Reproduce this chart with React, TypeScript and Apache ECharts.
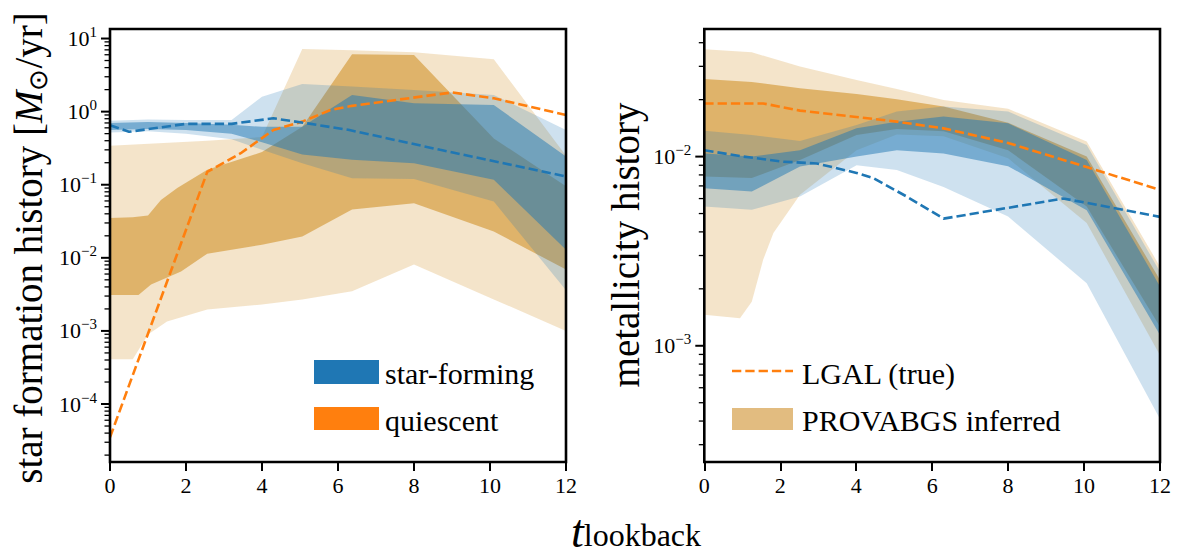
import React, { useEffect, useRef } from 'react';
import * as echarts from 'echarts';

const FONT = 'Liberation Serif';
const C0 = '#1f77b4';
const C1 = '#ff7f0e';
const TAN_OUTER = 'rgba(214,158,66,0.28)';
const TAN_INNER = 'rgba(214,158,66,0.70)';
const BLUE_OUTER = 'rgba(31,119,180,0.22)';
const BLUE_INNER = 'rgba(31,119,180,0.50)';
const TAN_PATCH = '#e2bc80';

const xTicks = [0, 2, 4, 6, 8, 10, 12];

// ---------- left panel: star formation history ----------
const sfhMin = 1.61e-5;
const sfhMax = 13.5;
const sfhMajor = [1e-4, 1e-3, 1e-2, 1e-1, 1, 10];
const sfhMinor = [2e-5, 3e-5, 4e-5, 5e-5, 6e-5, 7e-5, 8e-5, 9e-5,
  2e-4, 3e-4, 4e-4, 5e-4, 6e-4, 7e-4, 8e-4, 9e-4,
  2e-3, 3e-3, 4e-3, 5e-3, 6e-3, 7e-3, 8e-3, 9e-3,
  0.02, 0.03, 0.04, 0.05, 0.06, 0.07, 0.08, 0.09,
  0.2, 0.3, 0.4, 0.5, 0.6, 0.7, 0.8, 0.9,
  2, 3, 4, 5, 6, 7, 8, 9];

const sfhQuiescentTrue = [[0, 3.5e-5], [2.56, 0.15], [3.44, 0.27], [4.3, 0.56], [5.06, 0.73], [5.8, 1.05], [6.37, 1.2], [9.0, 1.83], [10.1, 1.52], [12, 0.9]];
const sfhStarFormingTrue = [[0, 0.65], [0.5, 0.53], [2, 0.68], [3.2, 0.68], [4.3, 0.81], [5.2, 0.69], [6.3, 0.56], [8.69, 0.30], [9.74, 0.23], [12, 0.13]];

const sfhQOuterHi = [[0, 0.34], [2.56, 0.40], [4.0, 0.45], [5.06, 7.2], [6.37, 6.9], [8.0, 6.5], [10.1, 5.2], [12, 0.25]];
const sfhQOuterLo = [[0, 4.1e-4], [0.6, 4.1e-4], [1.0, 8.9e-4], [1.5, 1.35e-3], [2.56, 1.96e-3], [4.0, 2.3e-3], [5.06, 2.7e-3], [6.37, 3.5e-3], [8.0, 8.1e-3], [10.1, 2.7e-3], [12, 1.0e-3]];
const sfhQInnerHi = [[0, 0.035], [0.6, 0.036], [1.0, 0.038], [1.34, 0.062], [1.77, 0.09], [2.56, 0.16], [4.0, 0.28], [5.06, 0.62], [6.37, 6.1], [8.0, 5.95], [10.1, 0.43], [12, 0.095]];
const sfhQInnerLo = [[0, 3.1e-3], [0.75, 3.1e-3], [1.08, 4.3e-3], [1.87, 6.5e-3], [2.56, 0.0114], [4.0, 0.0151], [5.06, 0.0196], [6.37, 0.046], [8.0, 0.056], [10.1, 0.023], [12, 0.0069]];
const sfhSOuterHi = [[0, 0.75], [1, 0.78], [2, 0.77], [3.2, 0.77], [4.0, 1.6], [5.06, 2.39], [6.37, 2.2], [8.0, 1.98], [10.1, 1.69], [12, 0.56]];
const sfhSOuterLo = [[0, 0.52], [1, 0.54], [2, 0.50], [3.2, 0.42], [4.0, 0.30], [5.06, 0.197], [6.37, 0.123], [8.0, 0.12], [10.1, 0.059], [12, 0.0036]];
const sfhSInnerHi = [[0, 0.70], [1, 0.72], [2, 0.70], [3.2, 0.66], [4.0, 0.62], [5.06, 0.62], [6.37, 1.69], [8.0, 1.30], [10.1, 1.23], [12, 0.243]];
const sfhSInnerLo = [[0, 0.56], [1, 0.58], [2, 0.56], [3.2, 0.50], [4.0, 0.38], [5.06, 0.26], [6.37, 0.22], [8.0, 0.197], [10.1, 0.117], [12, 0.0129]];

// ---------- right panel: metallicity history ----------
const zhMin = 2.43e-4;
const zhMax = 0.04726;
const zhMajor = [1e-3, 1e-2];
const zhMinor = [3e-4, 4e-4, 5e-4, 6e-4, 7e-4, 8e-4, 9e-4,
  2e-3, 3e-3, 4e-3, 5e-3, 6e-3, 7e-3, 8e-3, 9e-3,
  0.02, 0.03, 0.04];

const zhQuiescentTrue = [[0, 0.0191], [1.55, 0.0191], [2.52, 0.0175], [4.0, 0.0162], [5.07, 0.0153], [6.3, 0.0141], [8.0, 0.0118], [10.07, 0.0088], [12, 0.00667]];
const zhStarFormingTrue = [[0, 0.0108], [1.03, 0.0100], [2.08, 0.0094], [2.96, 0.0092], [4.01, 0.0082], [4.45, 0.0077], [5.33, 0.00615], [6.3, 0.0047], [9.45, 0.0060], [10.07, 0.0057], [12, 0.0048]];

const zhQOuterHi = [[0, 0.0369], [1.25, 0.0356], [2.52, 0.0299], [4.01, 0.0254], [5.07, 0.0228], [6.3, 0.0199], [8.0, 0.0179], [10.07, 0.0120], [12, 0.00262]];
const zhQOuterLo = [[0, 0.00146], [0.94, 0.0014], [1.25, 0.00171], [1.55, 0.00285], [1.82, 0.00394], [2.52, 0.00628], [4.01, 0.0108], [5.07, 0.0131], [6.3, 0.0128], [8.0, 0.0098], [10.07, 0.00445], [12, 0.00089]];
const zhQInnerHi = [[0, 0.0257], [1.25, 0.0248], [2.52, 0.0230], [4.01, 0.0214], [5.07, 0.0201], [6.3, 0.0184], [8.0, 0.0151], [10.07, 0.0100], [12, 0.00223]];
const zhQInnerLo = [[0, 0.00784], [1.25, 0.0077], [2.52, 0.0096], [4.01, 0.0130], [5.07, 0.0140], [6.3, 0.0136], [8.0, 0.0108], [10.07, 0.00545], [12, 0.00126]];
const zhSOuterHi = [[0, 0.0137], [1.25, 0.0130], [2.52, 0.0121], [4.01, 0.0147], [5.07, 0.0173], [6.3, 0.0184], [8.0, 0.0173], [10.07, 0.0115], [12, 0.00246]];
const zhSOuterLo = [[0, 0.00545], [1.25, 0.00523], [2.52, 0.00615], [4.01, 0.0090], [5.07, 0.0085], [6.3, 0.0069], [8.0, 0.00482], [10.07, 0.00214], [12, 0.00041]];
const zhSInnerHi = [[0, 0.0104], [1.25, 0.0100], [2.52, 0.0108], [4.01, 0.0141], [5.07, 0.0153], [6.3, 0.0163], [8.0, 0.0150], [10.07, 0.0096], [12, 0.00206]];
const zhSInnerLo = [[0, 0.00681], [1.25, 0.00653], [2.52, 0.00886], [4.01, 0.0100], [5.07, 0.0108], [6.3, 0.0104], [8.0, 0.0089], [10.07, 0.0052], [12, 0.00114]];

function band(upper: number[][], lower: number[][], fill: string, xi: number, yi: number) {
  return {
    type: 'custom',
    xAxisIndex: xi,
    yAxisIndex: yi,
    clip: true,
    silent: true,
    z: 2,
    data: [upper[0]],
    renderItem: (params: any, api: any) => {
      const pts = upper.map((p) => api.coord(p)).concat(lower.slice().reverse().map((p) => api.coord(p)));
      return { type: 'polygon', shape: { points: pts }, style: { fill } };
    },
  };
}

function dashed(data: number[][], color: string, xi: number, yi: number) {
  return {
    type: 'line',
    xAxisIndex: xi,
    yAxisIndex: yi,
    data,
    symbol: 'none',
    silent: true,
    z: 5,
    clip: true,
    lineStyle: { color, width: 2.6, type: [9.3, 4] },
  };
}

function ticks(values: number[], len: number, width: number, xi: number, yi: number) {
  return {
    type: 'custom',
    xAxisIndex: xi,
    yAxisIndex: yi,
    clip: false,
    silent: true,
    z: 12,
    data: values.map((v) => [0, v]),
    renderItem: (params: any, api: any) => {
      const p = api.coord([0, api.value(1)]);
      return {
        type: 'line',
        shape: { x1: p[0] - len, y1: p[1], x2: p[0], y2: p[1] },
        style: { stroke: '#000', lineWidth: width },
      };
    },
  };
}

// frame drawn on top of the bands, from the axes' own extents
function frame(xMax: number, yMin: number, yMax: number, xi: number, yi: number) {
  return {
    type: 'custom',
    xAxisIndex: xi,
    yAxisIndex: yi,
    clip: false,
    silent: true,
    z: 20,
    data: [[0, yMin]],
    renderItem: (params: any, api: any) => {
      const a = api.coord([0, yMin]);
      const b = api.coord([xMax, yMax]);
      return {
        type: 'rect',
        shape: { x: a[0], y: b[1], width: b[0] - a[0], height: a[1] - b[1] },
        style: { fill: 'none', stroke: '#000', lineWidth: 2.6 },
      };
    },
  };
}

const logLabel = (v: number) => {
  const e = Math.log10(v);
  const r = Math.round(e);
  if (Math.abs(e - r) > 1e-6) return '';
  return `{b|10}{s|${r < 0 ? '\u2212' + -r : r}}`;
};

function xAxis(grid: number) {
  return {
    gridIndex: grid, type: 'value', min: 0, max: 12, interval: 2, z: 10,
    axisLine: { show: false },
    axisTick: { show: true, inside: false, length: 9, lineStyle: { color: '#000', width: 2 } },
    axisLabel: { fontSize: 22, fontFamily: FONT, color: '#000', margin: 12, formatter: (v: number) => (xTicks.includes(v) ? String(v) : '') },
    splitLine: { show: false },
  };
}

function yAxis(grid: number, min: number, max: number) {
  return {
    gridIndex: grid, type: 'log', logBase: 10, min, max, z: 10, position: 'left',
    axisLine: { show: false },
    axisTick: { show: false },
    axisLabel: {
      margin: 13,
      formatter: logLabel,
      rich: {
        b: { fontSize: 22, fontFamily: FONT, color: '#000', lineHeight: 28 },
        s: { fontSize: 15, fontFamily: FONT, color: '#000', lineHeight: 15, verticalAlign: 'top' },
      },
    },
    splitLine: { show: false },
  };
}

export default function App() {
  const ref = useRef<HTMLDivElement>(null);
  useEffect(() => {
    if (!ref.current) return;
    const chart = echarts.init(ref.current, null, { renderer: 'svg' });
    const option: any = {
      animation: false,
      backgroundColor: '#fff',
      grid: [
        { left: 110, top: 29, width: 456, height: 433 },
        { left: 704.3, top: 29, width: 455.7, height: 433 },
      ],
      xAxis: [xAxis(0), xAxis(1)],
      yAxis: [yAxis(0, sfhMin, sfhMax), yAxis(1, zhMin, zhMax)],
      series: [
        band(sfhQOuterHi, sfhQOuterLo, TAN_OUTER, 0, 0),
        band(sfhQInnerHi, sfhQInnerLo, TAN_INNER, 0, 0),
        band(sfhSOuterHi, sfhSOuterLo, BLUE_OUTER, 0, 0),
        band(sfhSInnerHi, sfhSInnerLo, BLUE_INNER, 0, 0),
        dashed(sfhQuiescentTrue, C1, 0, 0),
        dashed(sfhStarFormingTrue, C0, 0, 0),
        ticks(sfhMajor, 9, 2, 0, 0),
        ticks(sfhMinor, 5.5, 1.3, 0, 0),
        frame(12, sfhMin, sfhMax, 0, 0),

        band(zhQOuterHi, zhQOuterLo, TAN_OUTER, 1, 1),
        band(zhQInnerHi, zhQInnerLo, TAN_INNER, 1, 1),
        band(zhSOuterHi, zhSOuterLo, BLUE_OUTER, 1, 1),
        band(zhSInnerHi, zhSInnerLo, BLUE_INNER, 1, 1),
        dashed(zhQuiescentTrue, C1, 1, 1),
        dashed(zhStarFormingTrue, C0, 1, 1),
        ticks(zhMajor, 9, 2, 1, 1),
        ticks(zhMinor, 5.5, 1.3, 1, 1),
        frame(12, zhMin, zhMax, 1, 1),
      ],
      graphic: [
        {
          type: 'text', x: 28, y: 248, rotation: Math.PI / 2,
          style: {
            text: 'star formation history [{i|M}{sub|\u2299}/yr]',
            fontFamily: FONT, fontSize: 39, fill: '#000', align: 'center', verticalAlign: 'middle',
            rich: {
              i: { fontFamily: FONT, fontSize: 39, fontStyle: 'italic', lineHeight: 46 },
              sub: { fontFamily: FONT, fontSize: 26, lineHeight: 34, verticalAlign: 'bottom' },
            },
          },
        },
        {
          type: 'text', x: 625, y: 245, rotation: Math.PI / 2,
          style: { text: 'metallicity history', fontFamily: FONT, fontSize: 39, fill: '#000', align: 'center', verticalAlign: 'middle' },
        },
        {
          type: 'text', x: 636, y: 531,
          style: {
            text: '{t|t}{s|lookback}', align: 'center', verticalAlign: 'middle',
            rich: {
              t: { fontFamily: FONT, fontSize: 46, fontStyle: 'italic', lineHeight: 40, fill: '#000' },
              s: { fontFamily: FONT, fontSize: 32, lineHeight: 20, verticalAlign: 'bottom', fill: '#000' },
            },
          },
        },
        { type: 'rect', shape: { x: 314, y: 360, width: 65, height: 24 }, style: { fill: C0 } },
        { type: 'text', x: 385, y: 373, style: { text: 'star-forming', fontFamily: FONT, fontSize: 30, fill: '#000', verticalAlign: 'middle' } },
        { type: 'rect', shape: { x: 314, y: 407, width: 65, height: 23 }, style: { fill: C1 } },
        { type: 'text', x: 385, y: 420, style: { text: 'quiescent', fontFamily: FONT, fontSize: 30, fill: '#000', verticalAlign: 'middle' } },
        { type: 'line', shape: { x1: 732, y1: 371, x2: 793, y2: 371 }, style: { stroke: C1, lineWidth: 2.6, lineDash: [9.3, 4] } },
        { type: 'text', x: 802, y: 373, style: { text: 'LGAL (true)', fontFamily: FONT, fontSize: 30, fill: '#000', verticalAlign: 'middle' } },
        { type: 'rect', shape: { x: 732, y: 408, width: 61, height: 22 }, style: { fill: TAN_PATCH } },
        { type: 'text', x: 802, y: 420, style: { text: 'PROVABGS inferred', fontFamily: FONT, fontSize: 30, fill: '#000', verticalAlign: 'middle' } },
      ],
    };
    chart.setOption(option);
    return () => chart.dispose();
  }, []);
  return <div ref={ref} style={{ position: 'fixed', left: 0, top: 0, width: 1177, height: 556, background: '#fff' }} />;
}
